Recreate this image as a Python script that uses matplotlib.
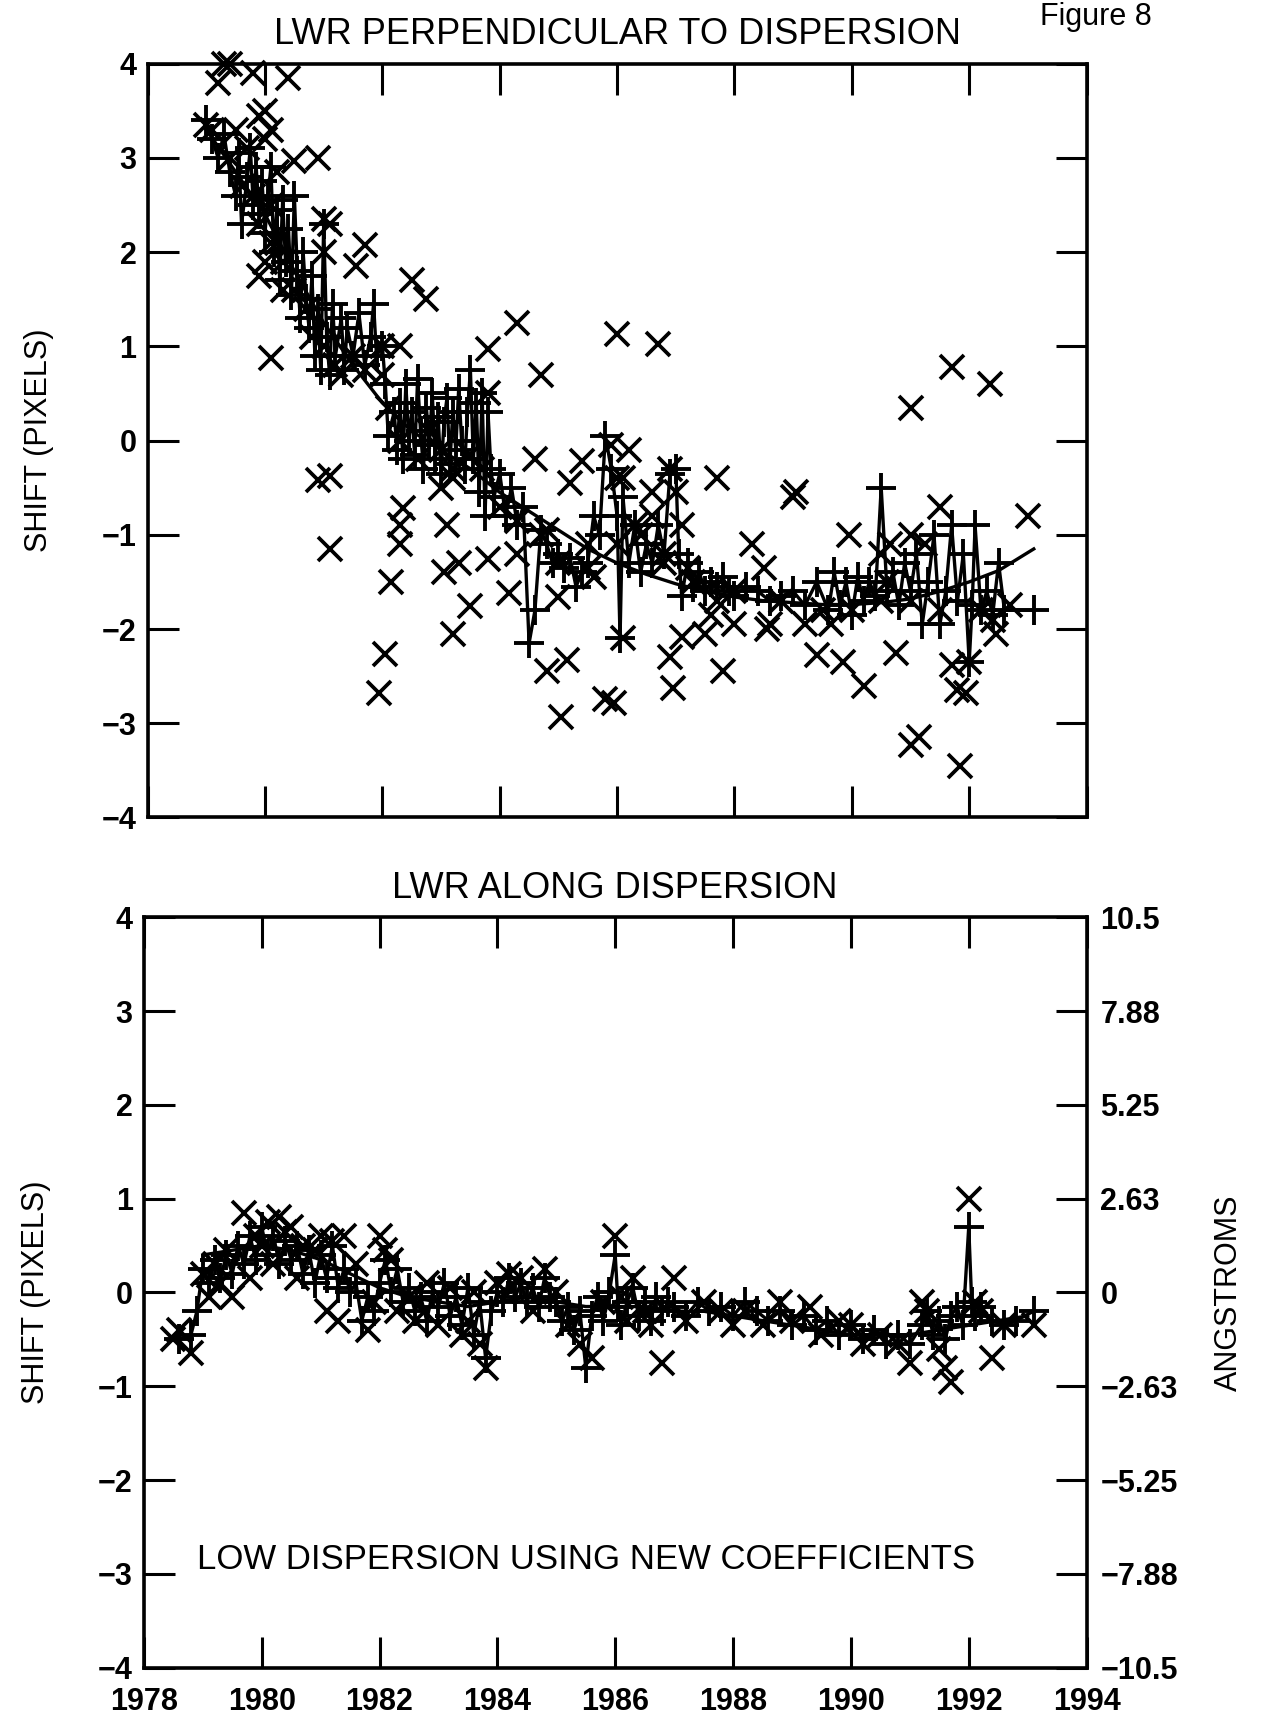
import matplotlib
matplotlib.use('Agg')
import matplotlib.pyplot as plt

plt.rcParams['font.family'] = ['Liberation Sans', 'DejaVu Sans']
plt.rcParams['font.weight'] = 'bold'

# ---- top panel: perpendicular to dispersion ----
top_plus_year = [1979.0, 1979.1, 1979.2, 1979.3, 1979.4, 1979.5, 1979.55, 1979.6, 1979.7, 1979.75,
                 1979.8, 1979.85, 1979.9, 1979.95, 1980.0, 1980.05, 1980.1, 1980.15, 1980.2, 1980.25,
                 1980.3, 1980.35, 1980.4, 1980.45, 1980.5, 1980.55, 1980.6, 1980.65, 1980.7, 1980.75,
                 1980.8, 1980.85, 1980.9, 1980.95, 1981.0, 1981.05, 1981.1, 1981.15, 1981.2, 1981.3,
                 1981.35, 1981.4, 1981.5, 1981.6, 1981.7, 1981.8, 1981.85, 1981.9, 1982.0, 1982.05,
                 1982.1, 1982.2, 1982.25, 1982.3, 1982.35, 1982.4, 1982.45, 1982.5, 1982.55, 1982.6,
                 1982.65, 1982.7, 1982.75, 1982.8, 1982.85, 1982.9, 1982.95, 1983.0, 1983.05, 1983.1,
                 1983.15, 1983.2, 1983.25, 1983.3, 1983.35, 1983.4, 1983.45, 1983.5, 1983.55, 1983.6,
                 1983.65, 1983.7, 1983.75, 1983.8, 1983.85, 1983.9, 1984.0, 1984.1, 1984.2, 1984.3,
                 1984.4, 1984.5, 1984.6, 1984.7, 1984.8, 1984.9, 1985.0, 1985.1, 1985.2, 1985.3,
                 1985.4, 1985.5, 1985.6, 1985.7, 1985.8, 1985.9, 1986.0, 1986.05, 1986.1, 1986.2,
                 1986.3, 1986.4, 1986.5, 1986.6, 1986.7, 1986.8, 1986.9, 1987.0, 1987.05, 1987.1,
                 1987.2, 1987.3, 1987.4, 1987.5, 1987.6, 1987.7, 1987.8, 1987.9, 1988.0, 1988.2,
                 1988.4, 1988.6, 1988.8, 1989.0, 1989.2, 1989.4, 1989.6, 1989.7, 1989.8, 1989.9,
                 1990.0, 1990.1, 1990.2, 1990.3, 1990.4, 1990.5, 1990.6, 1990.7, 1990.8, 1990.9,
                 1991.0, 1991.1, 1991.2, 1991.3, 1991.4, 1991.5, 1991.6, 1991.7, 1991.8, 1991.9,
                 1992.0, 1992.05, 1992.1, 1992.2, 1992.3, 1992.4, 1992.5, 1992.6, 1993.1]
top_plus_val = [3.4, 3.2, 3.0, 3.25, 2.85, 2.6, 3.05, 2.3, 2.8, 3.1,
                2.5, 2.9, 2.4, 2.75, 2.2, 2.6, 2.9, 2.0, 2.45, 1.7,
                2.55, 1.9, 2.25, 1.55, 2.6, 1.8, 1.3, 2.0, 1.5, 1.2,
                1.75, 0.9, 1.4, 0.75, 2.3, 1.1, 0.7, 1.45, 0.9, 1.3,
                0.75, 1.2, 0.9, 1.35, 0.8, 1.1, 1.45, 0.9, 1.0, 0.6,
                0.05, 0.3, -0.1, 0.4, -0.2, 0.6, 0.0, 0.3, -0.15, 0.65,
                0.1, -0.3, 0.35, -0.05, 0.5, -0.2, 0.25, -0.35, 0.2, 0.45,
                -0.25, 0.3, -0.1, 0.55, 0.0, -0.3, 0.3, 0.75, -0.2, 0.4,
                -0.55, 0.5, -0.8, 0.3, -0.3, -0.6, -0.35, -0.8, -0.5, -0.9,
                -0.7, -2.15, -1.8, -0.95, -1.1, -1.3, -1.2, -1.35, -1.25, -1.55,
                -1.4, -1.3, -0.8, -1.0, 0.05, -0.3, -0.8, -2.1, -0.6, -1.3,
                -0.9, -1.4, -1.1, -1.3, -0.9, -1.2, -0.35, -0.3, -1.2, -1.65,
                -1.3, -1.55, -1.4, -1.6, -1.5, -1.55, -1.45, -1.6, -1.65, -1.55,
                -1.6, -1.7, -1.65, -1.6, -1.75, -1.5, -1.8, -1.4, -1.75, -1.5,
                -1.85, -1.45, -1.7, -1.5, -1.65, -0.5, -1.6, -1.4, -1.75, -1.3,
                -1.6, -1.2, -1.95, -1.5, -1.0, -1.95, -1.6, -0.9, -1.7, -1.2,
                -2.35, -1.75, -0.9, -1.8, -1.6, -1.85, -1.3, -1.8, -1.8]

top_x_year = [1979.0, 1979.2, 1979.3, 1979.4, 1979.5, 1979.7, 1979.8, 1979.9, 1980.0, 1980.0,
              1980.1, 1980.2, 1980.4, 1980.5, 1980.9, 1979.8, 1980.1, 1980.3, 1979.9, 1980.0,
              1980.2, 1980.1, 1981.0, 1981.1, 1981.0, 1981.3, 1980.9, 1981.1, 1981.1, 1981.55,
              1981.7, 1982.0, 1982.1, 1981.95, 1982.05, 1982.3, 1982.15, 1982.3, 1982.35, 1982.3,
              1982.5, 1982.75, 1983.0, 1983.2, 1983.1, 1983.05, 1983.3, 1983.2, 1983.5, 1983.8,
              1983.8, 1983.8, 1984.3, 1984.3, 1984.15, 1984.6, 1984.8, 1984.7, 1984.8, 1985.2,
              1985.0, 1985.05, 1985.15, 1985.6, 1985.5, 1985.4, 1985.9, 1986.0, 1986.1, 1985.8,
              1985.95, 1986.0, 1986.3, 1986.2, 1986.1, 1986.6, 1986.6, 1986.8, 1986.9, 1987.0,
              1987.2, 1986.7, 1986.9, 1986.95, 1987.6, 1987.1, 1987.1, 1987.7, 1987.5, 1987.8,
              1988.0, 1988.3, 1988.5, 1988.6, 1988.55, 1989.0, 1989.05, 1989.2, 1989.4, 1989.65,
              1989.85, 1989.95, 1990.2, 1990.6, 1990.5, 1990.65, 1990.75, 1991.0, 1991.0, 1991.15,
              1991.0, 1991.25, 1991.5, 1991.7, 1991.7, 1991.8, 1991.85, 1991.95, 1992.0, 1992.35,
              1992.4, 1992.45, 1993.0,
              1979.1, 1979.4, 1979.6, 1979.9, 1980.1, 1980.3, 1980.5, 1980.7, 1980.8, 1981.0,
              1981.2, 1981.5, 1981.7, 1982.0, 1982.3, 1982.6, 1982.8, 1983.0, 1983.2, 1983.5,
              1983.7, 1984.0, 1984.3, 1984.7, 1985.0, 1985.5, 1986.0, 1986.4, 1986.8, 1987.3,
              1987.7, 1988.0, 1988.8, 1989.5, 1990.0, 1990.5, 1991.0, 1991.5, 1992.2, 1992.7]
top_x_val = [3.35, 3.8, 4.0, 4.0, 3.3, 3.1, 3.9, 3.45, 3.5, 3.2,
             3.3, 2.85, 3.85, 2.97, 3.0, 2.6, 2.5, 1.6, 1.75, 1.9,
             2.1, 0.88, 2.35, 2.3, 2.0, 0.7, -0.42, -0.38, -1.15, 1.85,
             2.08, 1.0, 0.35, -2.68, -2.27, -0.9, -1.5, -1.1, -0.72, 1.0,
             1.7, 1.5, -0.5, -0.3, -0.9, -1.4, -1.3, -2.05, -1.76, 0.5,
             -1.26, 0.97, 1.25, -1.2, -1.62, -0.2, -0.95, 0.7, -2.45, -0.45,
             -1.66, -2.93, -2.33, -1.45, -1.1, -0.22, -0.05, -0.4, -0.4, -2.74,
             -2.78, 1.13, -0.9, -0.1, -2.1, -0.55, -0.8, -1.2, -0.3, -0.55,
             -1.35, 1.03, -2.3, -2.63, -1.85, -2.08, -0.9, -0.4, -2.05, -2.45,
             -1.95, -1.1, -1.35, -1.95, -2.0, -0.6, -0.55, -1.95, -2.28, -1.95,
             -2.35, -1.0, -2.6, -1.5, -1.2, -1.1, -2.25, 0.35, -3.23, -3.15,
             -1.0, -1.1, -0.7, 0.78, -2.38, -2.65, -3.45, -2.68, -2.35, 0.6,
             -1.9, -2.05, -0.8,
             3.3, 3.0, 2.7, 2.3, 2.1, 1.9, 1.6, 1.4, 1.1, 1.0,
             0.8, 0.9, 0.75, 0.7, 0.0, -0.2, 0.1, -0.1, -0.4, -0.15,
             -0.3, -0.7, -0.85, -1.0, -1.3, -1.35, -1.1, -1.0, -1.3, -1.5,
             -1.7, -1.6, -1.7, -1.8, -1.8, -1.7, -1.7, -1.8, -1.8, -1.75]

top_fit_year = [1979.0, 1979.5, 1980.0, 1980.5, 1981.0, 1981.5, 1982.0, 1982.5, 1983.0, 1983.5,
                1984.0, 1984.5, 1985.0, 1985.5, 1986.0, 1986.5, 1987.0, 1987.5, 1988.0, 1988.5,
                1989.0, 1989.5, 1990.0, 1990.5, 1991.0, 1991.5, 1992.0, 1992.5, 1993.1]
top_fit_val = [3.3, 2.85, 2.4, 1.8, 1.25, 0.8, 0.4, 0.1, -0.1, -0.3,
               -0.55, -0.75, -0.95, -1.15, -1.3, -1.42, -1.52, -1.6, -1.66, -1.7,
               -1.72, -1.74, -1.74, -1.72, -1.68, -1.6, -1.5, -1.38, -1.15]

# ---- bottom panel: along dispersion ----
bot_plus_year = [1978.6, 1978.8, 1978.9, 1979.0, 1979.1, 1979.2, 1979.3, 1979.4, 1979.5, 1979.6,
                 1979.7, 1979.8, 1979.9, 1980.0, 1980.1, 1980.2, 1980.3, 1980.4, 1980.5, 1980.6,
                 1980.7, 1980.8, 1980.9, 1981.0, 1981.1, 1981.2, 1981.3, 1981.4, 1981.5, 1981.6,
                 1981.7, 1981.8, 1981.9, 1982.0, 1982.1, 1982.2, 1982.3, 1982.4, 1982.5, 1982.6,
                 1982.7, 1982.8, 1982.9, 1983.0, 1983.1, 1983.2, 1983.3, 1983.4, 1983.5, 1983.6,
                 1983.7, 1983.8, 1983.9, 1984.0, 1984.1, 1984.2, 1984.3, 1984.4, 1984.5, 1984.6,
                 1984.7, 1984.8, 1984.9, 1985.0, 1985.1, 1985.2, 1985.3, 1985.4, 1985.5, 1985.6,
                 1985.7, 1985.8, 1985.9, 1986.0, 1986.05, 1986.1, 1986.2, 1986.3, 1986.4, 1986.5,
                 1986.6, 1986.7, 1986.8, 1986.9, 1987.0, 1987.2, 1987.4, 1987.6, 1987.8, 1988.0,
                 1988.2, 1988.4, 1988.6, 1988.8, 1989.0, 1989.2, 1989.4, 1989.6, 1989.8, 1990.0,
                 1990.2, 1990.4, 1990.6, 1990.8, 1991.0, 1991.2, 1991.3, 1991.4, 1991.5, 1991.6,
                 1991.7, 1991.8, 1991.9, 1992.0, 1992.05, 1992.1, 1992.2, 1992.4, 1992.6, 1992.8,
                 1993.1]
bot_plus_val = [-0.5, -0.45, -0.2, 0.25, 0.1, 0.35, 0.15, 0.4, 0.2, 0.5,
                0.3, 0.6, 0.35, 0.7, 0.4, 0.6, 0.3, 0.55, 0.35, 0.5,
                0.2, 0.45, 0.1, 0.4, 0.15, 0.5, 0.05, 0.25, 0.0, 0.1,
                -0.3, -0.05, -0.2, 0.1, 0.35, 0.0, 0.25, -0.1, 0.05, -0.2,
                -0.05, -0.3, 0.0, -0.15, 0.1, -0.25, -0.05, -0.35, 0.05, -0.45,
                -0.1, -0.7, -0.2, 0.0, -0.1, 0.15, -0.05, 0.1, -0.1, 0.05,
                -0.15, 0.15, -0.05, -0.1, -0.3, -0.15, -0.4, -0.2, -0.8, -0.25,
                -0.05, -0.3, 0.0, 0.4, -0.15, -0.35, -0.1, 0.05, -0.25, -0.1,
                -0.3, -0.05, -0.2, -0.1, -0.15, -0.25, -0.1, -0.2, -0.15, -0.25,
                -0.1, -0.2, -0.3, -0.2, -0.35, -0.25, -0.4, -0.3, -0.45, -0.35,
                -0.5, -0.4, -0.55, -0.45, -0.55, -0.35, -0.2, -0.45, -0.3, -0.5,
                -0.25, -0.15, -0.35, 0.7, -0.1, -0.25, -0.15, -0.3, -0.35, -0.3,
                -0.2]

bot_x_year = [1978.5, 1978.6, 1978.8, 1979.0, 1979.1, 1979.2, 1979.3, 1979.4, 1979.5, 1979.7,
              1979.8, 1979.9, 1980.0, 1980.1, 1980.2, 1980.3, 1980.4, 1980.5, 1980.6, 1980.7,
              1980.9, 1981.0, 1981.1, 1981.2, 1981.3, 1981.4, 1981.6, 1981.8, 1981.9, 1982.0,
              1982.1, 1982.2, 1982.3, 1982.5, 1982.6, 1982.8, 1983.0, 1983.2, 1983.4, 1983.5,
              1983.6, 1983.7, 1983.8, 1984.0, 1984.2, 1984.4, 1984.6, 1984.8, 1985.0, 1985.2,
              1985.4, 1985.6, 1985.8, 1986.0, 1986.1, 1986.2, 1986.3, 1986.5, 1986.6, 1986.8,
              1987.0, 1987.2, 1987.5, 1987.8, 1988.0, 1988.2, 1988.5, 1988.8, 1989.0, 1989.3,
              1989.5, 1989.8, 1990.0, 1990.2, 1990.5, 1990.8, 1991.0, 1991.2, 1991.3, 1991.5,
              1991.6, 1991.7, 1992.0, 1992.1, 1992.2, 1992.4, 1992.6, 1993.1]
bot_x_val = [-0.5, -0.4, -0.65, 0.2, -0.05, 0.3, 0.1, 0.45, -0.05, 0.85,
             0.15, 0.6, 0.5, 0.75, 0.3, 0.8, 0.65, 0.7, 0.15, 0.5,
             0.45, 0.6, -0.2, 0.55, -0.3, 0.6, 0.3, -0.4, -0.1, 0.6,
             0.45, 0.35, -0.2, -0.05, -0.3, 0.1, -0.35, 0.05, -0.45, -0.3,
             0.0, -0.55, -0.8, 0.1, 0.2, 0.15, -0.2, 0.25, 0.0, -0.35,
             -0.55, -0.7, -0.1, 0.6, -0.05, -0.3, 0.15, -0.2, -0.35, -0.75,
             0.15, -0.3, -0.1, -0.2, -0.35, -0.2, -0.35, -0.1, -0.3, -0.15,
             -0.45, -0.3, -0.35, -0.55, -0.45, -0.55, -0.75, -0.1, -0.2, -0.6,
             -0.8, -0.95, 1.0, -0.1, -0.2, -0.7, -0.35, -0.35]

bot_fit_year = [1979.0, 1979.5, 1980.0, 1980.5, 1981.0, 1981.5, 1982.0, 1982.5, 1983.0, 1983.5,
                1984.0, 1984.5, 1985.0, 1985.5, 1986.0, 1986.5, 1987.0, 1987.5, 1988.0, 1988.5,
                1989.0, 1989.5, 1990.0, 1990.5, 1991.0, 1991.5, 1992.0, 1992.5, 1993.0]
bot_fit_val = [0.4, 0.45, 0.5, 0.45, 0.35, 0.2, 0.05, -0.05, -0.1, -0.15,
               -0.1, -0.05, -0.1, -0.15, -0.15, -0.15, -0.2, -0.2, -0.25, -0.3,
               -0.35, -0.4, -0.45, -0.45, -0.45, -0.4, -0.35, -0.3, -0.25]

year_ticks = [1978, 1980, 1982, 1984, 1986, 1988, 1990, 1992, 1994]
shift_ticks = [-4, -3, -2, -1, 0, 1, 2, 3, 4]
ang_labels = ['\u221210.5', '\u22127.88', '\u22125.25', '\u22122.63', '0', '2.63', '5.25', '7.88', '10.5']

fig = plt.figure(figsize=(12.62, 17.21), dpi=100)
ax1 = fig.add_axes([0.117, 0.525, 0.744, 0.438])
ax2 = fig.add_axes([0.114, 0.031, 0.747, 0.436])

def style(ax, xlabels):
    ax.set_xlim(1978, 1994)
    ax.set_ylim(-4, 4)
    ax.set_xticks(year_ticks)
    ax.set_yticks(shift_ticks)
    ax.tick_params(direction='in', length=22, width=2.2, top=True, right=True,
                   labelsize=22, pad=8)
    ax.tick_params(axis='x', pad=14)
    if xlabels:
        ax.set_xticklabels([str(y) for y in year_ticks])
    else:
        ax.set_xticklabels([])
    for s in ax.spines.values():
        s.set_linewidth(2.6)
    ax.set_ylabel('SHIFT (PIXELS)', fontsize=22, fontweight='normal', labelpad=34)

for ax, px, pv, xx, xv, fx, fv in [
        (ax1, top_plus_year, top_plus_val, top_x_year, top_x_val, top_fit_year, top_fit_val),
        (ax2, bot_plus_year, bot_plus_val, bot_x_year, bot_x_val, bot_fit_year, bot_fit_val)]:
    ax.plot(px, pv, color='black', lw=2.4, marker='+', ms=21, mew=2.8, clip_on=False)
    ax.plot(xx, xv, ls='none', color='black', marker='x', ms=17, mew=2.7, clip_on=False)
    ax.plot(fx, fv, color='black', lw=2.4)

style(ax1, False)
style(ax2, True)

ax1.set_title('LWR PERPENDICULAR TO DISPERSION', fontsize=26, fontweight='normal', pad=14)
ax2.set_title('LWR ALONG DISPERSION', fontsize=26, fontweight='normal', pad=14)
fig.text(0.868, 0.99, 'Figure 8', fontsize=22, fontweight='normal', ha='center', va='center')

ax2.text(1985.5, -2.85, 'LOW DISPERSION USING NEW COEFFICIENTS', fontsize=25,
         fontweight='normal', ha='center', va='center')

axr = ax2.twinx()
axr.set_ylim(-10.5, 10.5)
axr.set_yticks([v * 2.625 for v in shift_ticks])
axr.set_yticklabels(ang_labels)
axr.tick_params(direction='in', length=22, width=2.2, labelsize=22, pad=10)
axr.set_ylabel('ANGSTROMS', fontsize=22, fontweight='normal', labelpad=26)
ax2.tick_params(axis='y', right=False)

fig.savefig('out.png', dpi=100, facecolor='white')
